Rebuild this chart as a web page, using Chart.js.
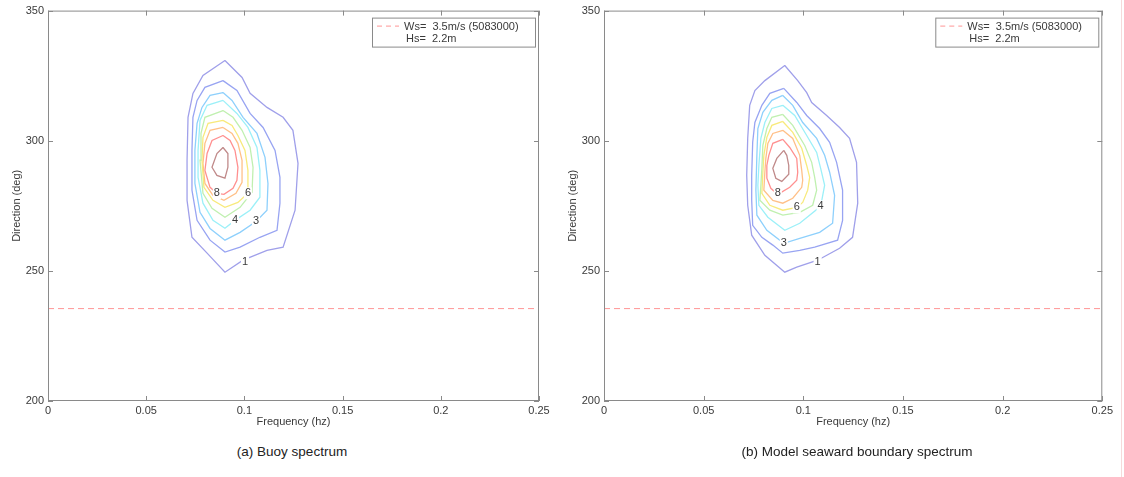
<!DOCTYPE html>
<html>
<head>
<meta charset="utf-8">
<script src="https://cdn.jsdelivr.net/npm/chart.js@4.4.1/dist/chart.umd.min.js"></script>
<style>
  body { margin: 0; background: #fff; width: 1124px; height: 477px; position: relative; overflow: hidden;
         font-family: 'Liberation Sans', Arial, sans-serif; }
  canvas { position: absolute; top: 0; }
  #buoyChart { left: 0; }
  #modelChart { left: 556px; }
  .caption { position: absolute; top: 444px; width: 400px; text-align: center; font-size: 13.5px; color: #222; }
  .edge { position: absolute; left: 1121px; top: 0; width: 1px; height: 477px; background: #f6dada; }
</style>
</head>
<body>
<canvas id="buoyChart" width="560" height="440"></canvas>
<canvas id="modelChart" width="560" height="440"></canvas>
<div class="caption" style="left:92px">(a) Buoy spectrum</div>
<div class="caption" style="left:657px">(b) Model seaward boundary spectrum</div>
<div class="edge"></div>
<script>
// axes
const freqTicks = [0, 0.05, 0.1, 0.15, 0.2, 0.25];
const dirTicks = [200, 250, 300, 350];
const levels = [1, 2, 3, 4, 5, 6, 7, 8, 9];

// mean wind direction (deg) and legend text
const windDir = 235.5;
const windText = 'Ws=  3.5m/s (5083000)';
const hsText = 'Hs=  2.2m';

// buoy spectrum contours, [frequency, direction] per level
const buoy1 = [[0.0901,330.8],[0.0988,324.3],[0.1029,318.2],[0.1115,312.8],[0.1197,309.0],[0.1247,304.0],[0.1273,291.3],[0.1258,273.3],[0.1197,259.1],[0.1115,257.9],[0.0993,254.1],[0.0901,249.5],[0.0810,256.8],[0.0733,262.9],[0.0708,277.1],[0.0708,292.5],[0.0713,309.0],[0.0738,318.2],[0.0789,325.1]];
const buoy2 = [[0.0891,323.1],[0.0962,319.3],[0.1029,310.5],[0.1095,305.1],[0.1156,296.3],[0.1181,285.9],[0.1181,276.0],[0.1166,265.6],[0.1079,262.9],[0.0978,259.1],[0.0901,257.2],[0.0825,261.8],[0.0759,269.4],[0.0733,281.0],[0.0733,296.3],[0.0738,309.0],[0.0759,315.5],[0.0799,320.5]];
const buoy3 = [[0.0891,318.5],[0.0937,315.5],[0.0993,309.0],[0.1064,302.8],[0.1105,293.6],[0.1120,283.6],[0.1115,273.3],[0.1059,269.0],[0.0978,264.8],[0.0901,261.8],[0.0825,266.3],[0.0774,272.5],[0.0748,283.6],[0.0748,296.3],[0.0759,306.7],[0.0784,312.8],[0.0825,317.4]];
const buoy4 = [[0.0891,315.5],[0.0962,310.5],[0.1018,305.1],[0.1064,297.4],[0.1079,288.6],[0.1079,278.3],[0.1029,273.3],[0.0952,269.4],[0.0901,266.4],[0.0840,269.4],[0.0789,276.0],[0.0764,285.9],[0.0764,296.3],[0.0774,307.8],[0.0810,313.6]];
const buoy5 = [[0.0891,311.6],[0.0942,309.0],[0.0988,304.0],[0.1029,297.4],[0.1044,289.8],[0.1039,280.2],[0.0978,274.4],[0.0901,270.6],[0.0835,274.0],[0.0789,279.8],[0.0774,292.5],[0.0779,302.8],[0.0799,309.0]];
const buoy6 = [[0.0891,307.8],[0.0937,305.9],[0.0967,302.0],[0.1003,296.3],[0.1018,288.6],[0.1018,279.8],[0.0967,276.3],[0.0901,274.4],[0.0840,277.1],[0.0794,282.1],[0.0784,292.5],[0.0789,301.3],[0.0815,306.7]];
const buoy7 = [[0.0891,305.1],[0.0937,302.8],[0.0967,299.0],[0.0988,292.5],[0.0988,284.0],[0.0957,279.8],[0.0896,277.1],[0.0840,279.0],[0.0799,283.6],[0.0789,291.3],[0.0799,299.0],[0.0825,304.0]];
const buoy8 = [[0.0891,302.0],[0.0927,300.1],[0.0952,296.3],[0.0967,289.8],[0.0962,284.8],[0.0942,281.7],[0.0896,279.4],[0.0860,279.8],[0.0825,282.1],[0.0799,288.6],[0.0810,295.1],[0.0835,300.1]];
const buoy9 = [[0.0891,297.4],[0.0916,295.1],[0.0916,289.8],[0.0901,285.6],[0.0860,286.7],[0.0835,289.8],[0.0860,295.1]];

// model seaward boundary contours
const model1 = [[0.0907,328.9],[0.0972,323.1],[0.1017,318.5],[0.1042,314.7],[0.1117,309.7],[0.1182,305.1],[0.1232,300.9],[0.1267,291.7],[0.1273,276.0],[0.1247,262.9],[0.1182,258.7],[0.1072,254.1],[0.0967,251.4],[0.0907,249.5],[0.0807,256.0],[0.0741,263.7],[0.0721,275.2],[0.0716,286.7],[0.0721,300.9],[0.0731,313.6],[0.0757,319.3],[0.0807,323.1]];
const model2 = [[0.0902,320.1],[0.0967,314.7],[0.1017,309.7],[0.1082,304.7],[0.1132,299.4],[0.1167,291.7],[0.1197,281.0],[0.1197,269.4],[0.1172,261.8],[0.1057,259.1],[0.0982,257.9],[0.0897,256.8],[0.0847,259.9],[0.0792,262.9],[0.0746,267.5],[0.0741,277.1],[0.0741,286.7],[0.0746,299.4],[0.0757,307.0],[0.0792,313.6],[0.0832,318.2]];
const model3 = [[0.0897,317.4],[0.0947,313.6],[0.0997,307.0],[0.1067,300.9],[0.1107,294.4],[0.1132,287.9],[0.1157,279.0],[0.1147,268.3],[0.1082,264.8],[0.0982,262.5],[0.0902,260.6],[0.0817,265.6],[0.0767,271.4],[0.0762,281.0],[0.0767,294.4],[0.0772,304.7],[0.0797,310.9],[0.0842,315.5]];
const model4 = [[0.0897,313.6],[0.0957,309.7],[0.1017,302.0],[0.1067,295.5],[0.1087,289.4],[0.1107,282.9],[0.1087,274.8],[0.0982,268.3],[0.0907,265.6],[0.0822,270.6],[0.0777,275.2],[0.0772,282.9],[0.0777,290.5],[0.0787,300.9],[0.0807,307.0],[0.0842,312.4]];
const model5 = [[0.0897,310.1],[0.0947,305.9],[0.1007,298.2],[0.1042,291.7],[0.1057,285.9],[0.1067,281.0],[0.1047,275.2],[0.0982,272.5],[0.0897,271.4],[0.0832,273.3],[0.0782,277.1],[0.0787,282.9],[0.0792,289.4],[0.0797,298.2],[0.0817,304.7],[0.0842,309.0]];
const model6 = [[0.0897,307.4],[0.0947,303.2],[0.0992,297.1],[0.1017,290.5],[0.1032,285.9],[0.1022,281.0],[0.0997,276.3],[0.0967,274.4],[0.0897,273.3],[0.0832,275.2],[0.0792,279.8],[0.0797,287.9],[0.0802,294.4],[0.0817,301.3],[0.0842,305.9]];
const model7 = [[0.0897,304.0],[0.0947,300.9],[0.0982,294.4],[0.0992,288.6],[0.0997,284.8],[0.0992,282.1],[0.0947,277.9],[0.0897,276.0],[0.0847,277.1],[0.0802,281.0],[0.0807,287.9],[0.0812,293.2],[0.0822,299.0],[0.0847,302.8]];
const model8 = [[0.0897,300.5],[0.0932,297.4],[0.0967,293.2],[0.0972,287.9],[0.0967,284.8],[0.0932,282.1],[0.0872,279.4],[0.0837,281.7],[0.0817,285.6],[0.0817,290.5],[0.0827,294.4],[0.0847,299.0]];
const model9 = [[0.0902,296.3],[0.0917,294.4],[0.0927,290.5],[0.0927,287.1],[0.0892,284.4],[0.0862,285.6],[0.0847,289.4],[0.0867,293.2]];

// contour labels: level, frequency, direction
const buoyLabels = [[8,0.0860,279.8],[6,0.1018,279.8],[4,0.0952,269.4],[3,0.1059,269.0],[1,0.1003,253.3]];
const modelLabels = [[8,0.0872,279.8],[6,0.0967,274.4],[4,0.1087,274.8],[3,0.0902,260.6],[1,0.1072,253.3]];

const levelColors = ['#a0a0ea','#98a4f2','#8ed0fc','#9cf0f8','#c0f0b0','#f8ea7c','#ffc088','#ff9090','#c08a8a'];
const axisColor = '#8a8a8a';
const textColor = '#3a3a3a';
const font = "'Liberation Sans', Arial, sans-serif";

function toPoints(list, close) {
  const pts = list.map(p => ({ x: p[0], y: p[1] }));
  if (close) pts.push(pts[0]);
  return pts;
}

const frameAndLabels = {
  id: 'frameAndLabels',
  afterDatasetsDraw(chart) {
    const { ctx, chartArea: a, scales: { x, y } } = chart;
    const labels = chart.options.plugins.frameAndLabels.labels;
    ctx.save();
    // box and inward ticks
    ctx.strokeStyle = axisColor;
    ctx.lineWidth = 1;
    ctx.strokeRect(a.left + 0.5, a.top + 0.5, a.right - a.left - 1, a.bottom - a.top - 1);
    ctx.beginPath();
    freqTicks.forEach(v => {
      const px = Math.round(x.getPixelForValue(v)) + 0.5;
      ctx.moveTo(px, a.bottom); ctx.lineTo(px, a.bottom - 5);
      ctx.moveTo(px, a.top); ctx.lineTo(px, a.top + 5);
    });
    dirTicks.forEach(v => {
      const py = Math.round(y.getPixelForValue(v)) + 0.5;
      ctx.moveTo(a.left, py); ctx.lineTo(a.left + 5, py);
      ctx.moveTo(a.right, py); ctx.lineTo(a.right - 5, py);
    });
    ctx.stroke();

    // contour level labels
    ctx.font = '11px ' + font;
    ctx.textAlign = 'center';
    ctx.textBaseline = 'middle';
    labels.forEach(([lev, f, d]) => {
      const px = x.getPixelForValue(f), py = y.getPixelForValue(d);
      const t = String(lev);
      const w = ctx.measureText(t).width;
      ctx.fillStyle = '#fff';
      ctx.fillRect(px - w / 2 - 1, py - 6, w + 2, 12);
      ctx.fillStyle = textColor;
      ctx.fillText(t, px, py);
    });

    // legend
    const bw = 163, bh = 29;
    const bx = a.right - 4 - bw, by = a.top + 7;
    ctx.fillStyle = '#fff';
    ctx.fillRect(bx, by, bw, bh);
    ctx.strokeStyle = axisColor;
    ctx.strokeRect(bx + 0.5, by + 0.5, bw, bh);
    ctx.strokeStyle = '#ff9696';
    ctx.setLineDash([5, 4]);
    ctx.beginPath();
    ctx.moveTo(bx + 5, by + 8.5); ctx.lineTo(bx + 27, by + 8.5);
    ctx.stroke();
    ctx.setLineDash([]);
    ctx.fillStyle = textColor;
    ctx.textAlign = 'left';
    ctx.fillText(windText, bx + 32, by + 9);
    ctx.fillText(hsText, bx + 34, by + 21);
    ctx.restore();
  }
};

function makeChart(id, contours, labels, padRight) {
  const datasets = contours.map((c, i) => ({
    data: toPoints(c, true),
    showLine: true,
    borderColor: levelColors[levels[i] - 1],
    borderWidth: 1.3,
    pointRadius: 0,
    tension: 0,
    fill: false
  }));
  datasets.push({
    data: toPoints([[freqTicks[0], windDir], [freqTicks[freqTicks.length - 1], windDir]], false),
    showLine: true,
    borderColor: '#ff9696',
    borderWidth: 1,
    borderDash: [6, 4],
    pointRadius: 0
  });

  return new Chart(document.getElementById(id), {
    type: 'scatter',
    data: { datasets },
    options: {
      responsive: false,
      animation: false,
      events: [],
      layout: { padding: { top: 10, right: padRight, bottom: 0, left: 0 } },
      plugins: {
        legend: { display: false },
        tooltip: { enabled: false },
        frameAndLabels: { labels }
      },
      scales: {
        x: {
          type: 'linear', min: 0, max: 0.25,
          afterBuildTicks: s => { s.ticks = freqTicks.map(v => ({ value: v })); },
          afterFit: s => { s.height = 39; },
          grid: { display: false, drawTicks: false },
          border: { display: false },
          ticks: { padding: 3, autoSkip: false, maxRotation: 0, color: textColor,
                   font: { family: font, size: 11 }, callback: v => String(v) },
          title: { display: true, text: 'Frequency (hz)', color: textColor,
                   font: { family: font, size: 11 }, padding: { top: 0, bottom: 11 } }
        },
        y: {
          type: 'linear', min: 200, max: 350,
          afterBuildTicks: s => { s.ticks = dirTicks.map(v => ({ value: v })); },
          afterFit: s => { s.width = 48; },
          grid: { display: false, drawTicks: false },
          border: { display: false },
          ticks: { padding: 4, autoSkip: false, color: textColor,
                   font: { family: font, size: 11 }, callback: v => String(v) },
          title: { display: true, text: 'Direction (deg)', color: textColor,
                   font: { family: font, size: 11 }, padding: { top: 10, bottom: 0 } }
        }
      }
    },
    plugins: [frameAndLabels]
  });
}

makeChart('buoyChart', [buoy1, buoy2, buoy3, buoy4, buoy5, buoy6, buoy7, buoy8, buoy9], buoyLabels, 21);
makeChart('modelChart', [model1, model2, model3, model4, model5, model6, model7, model8, model9], modelLabels, 13);
</script>
</body>
</html>
